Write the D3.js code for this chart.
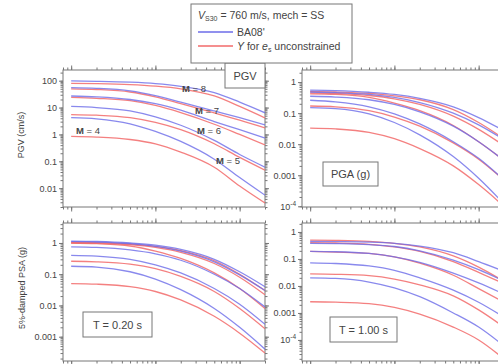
<!DOCTYPE html>
<html>
<head>
<meta charset="utf-8">
<script src="https://cdn.jsdelivr.net/npm/d3@7"></script>
<style>
  body { margin: 0; background: #fff; }
  svg { display: block; font-family: "Liberation Sans", Arial, sans-serif; }
  .frame { fill: none; stroke: #777; stroke-width: 1; }
  .domain { display: none; }
</style>
</head>
<body>
<div id="chart"></div>
<script>
const distances = [1, 2, 5, 10, 20, 50, 100, 200];
const magnitudes = [8, 7, 6, 5, 4];

// PGV (cm/s), one row per magnitude (8..4)
const pgvBA08 = [
  [98, 95, 88, 78, 62, 36, 16, 6.4],
  [55, 52, 42, 28, 16, 7.5, 4.2, 2.26],
  [27, 25, 20, 14, 8, 3, 1.5, 0.74],
  [11, 10, 7.5, 4.5, 2.2, 0.6, 0.18, 0.061],
  [4.2, 3.8, 2.5, 1.3, 0.55, 0.12, 0.025, 0.0055]
];
const pgvY = [
  [80, 78, 72, 63, 50, 27, 11, 4.1],
  [50, 47, 38, 25, 14, 6.3, 3.4, 1.75],
  [24, 22, 18, 12, 6.5, 2.4, 1.0, 0.41],
  [5.5, 5.2, 4.2, 2.8, 1.5, 0.45, 0.14, 0.047],
  [0.85, 0.8, 0.65, 0.45, 0.22, 0.06, 0.012, 0.0028]
];

// PGA (g)
const pgaBA08 = [
  [0.55, 0.53, 0.47, 0.40, 0.30, 0.16, 0.072, 0.027],
  [0.48, 0.46, 0.40, 0.32, 0.22, 0.10, 0.042, 0.014],
  [0.35, 0.33, 0.27, 0.19, 0.11, 0.038, 0.012, 0.003],
  [0.26, 0.23, 0.16, 0.095, 0.045, 0.012, 0.0035, 0.0007],
  [0.15, 0.14, 0.095, 0.05, 0.02, 0.004, 0.0008, 0.00012]
];
const pgaY = [
  [0.50, 0.48, 0.43, 0.36, 0.27, 0.13, 0.05, 0.015],
  [0.45, 0.43, 0.37, 0.29, 0.19, 0.08, 0.03, 0.009],
  [0.42, 0.40, 0.32, 0.21, 0.12, 0.04, 0.012, 0.003],
  [0.17, 0.16, 0.12, 0.075, 0.038, 0.011, 0.0033, 0.0007],
  [0.033, 0.031, 0.024, 0.015, 0.0072, 0.002, 0.0005, 0.0001]
];

// 5%-damped PSA (g), T = 0.20 s
const psa02BA08 = [
  [1.15, 1.12, 1.0, 0.85, 0.62, 0.30, 0.12, 0.04],
  [1.1, 1.07, 0.95, 0.78, 0.55, 0.25, 0.095, 0.03],
  [0.75, 0.72, 0.6, 0.45, 0.28, 0.1, 0.035, 0.009],
  [0.4, 0.38, 0.3, 0.2, 0.11, 0.035, 0.011, 0.0025],
  [0.18, 0.17, 0.12, 0.07, 0.032, 0.008, 0.002, 0.0004]
];
const psa02Y = [
  [1.05, 1.02, 0.92, 0.78, 0.57, 0.27, 0.1, 0.03],
  [1.0, 0.98, 0.88, 0.72, 0.50, 0.22, 0.08, 0.022],
  [1.0, 0.95, 0.8, 0.55, 0.32, 0.11, 0.035, 0.008],
  [0.26, 0.25, 0.21, 0.15, 0.085, 0.028, 0.008, 0.0018],
  [0.05, 0.048, 0.04, 0.028, 0.015, 0.0045, 0.0013, 0.0003]
];

// 5%-damped PSA (g), T = 1.00 s
const psa10BA08 = [
  [0.45, 0.44, 0.42, 0.38, 0.3, 0.17, 0.08, 0.035],
  [0.38, 0.37, 0.34, 0.29, 0.2, 0.09, 0.04, 0.015],
  [0.19, 0.185, 0.16, 0.12, 0.075, 0.03, 0.013, 0.005],
  [0.072, 0.068, 0.055, 0.038, 0.02, 0.007, 0.0025, 0.0007],
  [0.02, 0.019, 0.014, 0.0085, 0.004, 0.001, 0.0003, 0.00006]
];
const psa10Y = [
  [0.5, 0.49, 0.45, 0.38, 0.28, 0.13, 0.05, 0.015],
  [0.4, 0.39, 0.35, 0.28, 0.19, 0.08, 0.032, 0.012],
  [0.19, 0.18, 0.16, 0.12, 0.07, 0.025, 0.008, 0.0025],
  [0.028, 0.027, 0.024, 0.018, 0.011, 0.0043, 0.0013, 0.0003],
  [0.0026, 0.0025, 0.0022, 0.0016, 0.0009, 0.0003, 0.0001, 0.00002]
];

// tick labels
const pgvTicks = [100, 10, 1, 0.1, 0.01];
const pgaTicks = [1, 0.1, 0.01, 0.001, 1e-4];
const psa02Ticks = [1, 0.1, 0.01, 0.001];
const psa10Ticks = [1, 0.1, 0.01, 0.001, 1e-4];
const xMajor = [1, 10, 100];

const width = 498, height = 364;
const blue = "#6c6ce8", red = "#f26a6a";
const ink = "#444", axisGrey = "#777";

const svg = d3.select("#chart").append("svg")
  .attr("width", width).attr("height", height);

// panel layout
const panels = [
  {id: "pgv", x0: 63, x1: 265, y0: 70, y1: 207, yDomain: [0.002, 250],
   ba: pgvBA08, yy: pgvY, ticks: pgvTicks, label: "PGV",
   box: {x: 225, y: 63, w: 40, h: 25}},
  {id: "pga", x0: 302, x1: 504, y0: 70, y1: 207, yDomain: [9.5e-5, 2.45],
   ba: pgaBA08, yy: pgaY, ticks: pgaTicks, label: "PGA (g)",
   box: {x: 323, y: 162, w: 55, h: 24}},
  {id: "psa02", x0: 63, x1: 265, y0: 223, y1: 361, yDomain: [1.67e-4, 4.36],
   ba: psa02BA08, yy: psa02Y, ticks: psa02Ticks, label: "T = 0.20 s",
   box: {x: 83, y: 312, w: 69, h: 25}},
  {id: "psa10", x0: 302, x1: 504, y0: 223, y1: 361, yDomain: [1.66e-5, 2.15],
   ba: psa10BA08, yy: psa10Y, ticks: psa10Ticks, label: "T = 1.00 s",
   box: {x: 330, y: 317, w: 67, h: 25}}
];

function minorTicks(lo, hi) {
  const out = [];
  for (let e = Math.floor(Math.log10(lo)); e <= Math.ceil(Math.log10(hi)); e++) {
    for (let k = 1; k <= 9; k++) {
      const v = k * Math.pow(10, e);
      if (v >= lo * 0.999 && v <= hi * 1.001) out.push(v);
    }
  }
  return out;
}

function fmt(d) {
  if (d >= 1) return String(d);
  return d3.format("~g")(d);
}

panels.forEach(p => {
  const x = d3.scaleLog().domain([0.8, 200]).range([p.x0, p.x1]);
  const y = d3.scaleLog().domain(p.yDomain).range([p.y1, p.y0]);
  const g = svg.append("g");

  g.append("clipPath").attr("id", "clip-" + p.id)
    .append("rect").attr("x", p.x0).attr("y", p.y0)
    .attr("width", p.x1 - p.x0).attr("height", p.y1 - p.y0);

  // minor + major ticks on all four sides, pointing outwards
  const yMinor = minorTicks(p.yDomain[0], p.yDomain[1]);
  const xMinor = minorTicks(0.8, 200);
  const axes = [
    [d3.axisLeft(y).tickValues(yMinor).tickSize(2.5).tickFormat(""), `translate(${p.x0},0)`],
    [d3.axisRight(y).tickValues(yMinor).tickSize(2.5).tickFormat(""), `translate(${p.x1},0)`],
    [d3.axisTop(x).tickValues(xMinor).tickSize(2.5).tickFormat(""), `translate(0,${p.y0})`],
    [d3.axisBottom(x).tickValues(xMinor).tickSize(2.5).tickFormat(""), `translate(0,${p.y1})`],
    [d3.axisRight(y).tickValues(p.ticks).tickSize(4).tickFormat(""), `translate(${p.x1},0)`],
    [d3.axisTop(x).tickValues(xMajor).tickSize(4.5).tickFormat(""), `translate(0,${p.y0})`],
    [d3.axisBottom(x).tickValues(xMajor).tickSize(4.5).tickFormat(""), `translate(0,${p.y1})`]
  ];
  axes.forEach(([ax, tr]) => g.append("g").attr("transform", tr).call(ax.tickSizeOuter(0)));

  const yAxis = g.append("g").attr("transform", `translate(${p.x0},0)`)
    .call(d3.axisLeft(y).tickValues(p.ticks).tickSize(4).tickSizeOuter(0).tickPadding(2).tickFormat(fmt));
  yAxis.selectAll("text").attr("font-size", 9).attr("fill", ink)
    .each(function(d) {
      if (d === 1e-4) {
        const t = d3.select(this).text("10");
        t.append("tspan").attr("dy", -4).attr("font-size", 6.5).text("-4");
      }
    });

  g.selectAll(".tick line").attr("stroke", axisGrey);

  g.append("rect").attr("class", "frame")
    .attr("x", p.x0).attr("y", p.y0)
    .attr("width", p.x1 - p.x0).attr("height", p.y1 - p.y0);

  const line = d3.line()
    .x((d, i) => x(distances[i]))
    .y(d => y(d))
    .curve(d3.curveMonotoneX);

  const curves = g.append("g").attr("clip-path", `url(#clip-${p.id})`);
  magnitudes.forEach((m, i) => {
    curves.append("path").attr("d", line(p.yy[i]))
      .attr("fill", "none").attr("stroke", red).attr("stroke-width", 1.3).attr("stroke-opacity", 0.85);
    curves.append("path").attr("d", line(p.ba[i]))
      .attr("fill", "none").attr("stroke", blue).attr("stroke-width", 1.3).attr("stroke-opacity", 0.8);
  });

  // panel label box
  g.append("rect").attr("x", p.box.x).attr("y", p.box.y)
    .attr("width", p.box.w).attr("height", p.box.h)
    .attr("fill", "#fff").attr("stroke", axisGrey);
  g.append("text").attr("x", p.box.x + p.box.w / 2).attr("y", p.box.y + p.box.h / 2 + 4)
    .attr("text-anchor", "middle").attr("font-size", 11).attr("fill", ink)
    .text(p.label);
});

// magnitude labels on the PGV panel
const mLabels = [
  {m: 8, x: 182, y: 92}, {m: 7, x: 195, y: 114}, {m: 6, x: 197, y: 134},
  {m: 5, x: 216, y: 164}, {m: 4, x: 76, y: 134}
];
mLabels.forEach(l => {
  const t = svg.append("text").attr("x", l.x).attr("y", l.y)
    .attr("font-size", 9.5).attr("fill", ink);
  t.append("tspan").attr("font-weight", "bold").text("M");
  t.append("tspan").text(" = " + l.m);
});

// y axis titles
svg.append("text").attr("transform", "translate(24,135) rotate(-90)")
  .attr("text-anchor", "middle").attr("font-size", 9).attr("fill", ink)
  .text("PGV (cm/s)");
svg.append("text").attr("transform", "translate(25,288) rotate(-90)")
  .attr("text-anchor", "middle").attr("font-size", 9).attr("fill", ink)
  .text("5%-damped PSA (g)");

// legend
const leg = svg.append("g");
const legFont = 10.5;
leg.append("rect").attr("x", 191).attr("y", 4).attr("width", 161).attr("height", 59)
  .attr("fill", "#fff").attr("stroke", axisGrey);
const t1 = leg.append("text").attr("x", 198).attr("y", 19).attr("font-size", legFont).attr("fill", ink);
t1.append("tspan").attr("font-style", "italic").text("V");
t1.append("tspan").attr("font-size", 7).attr("dy", 2).text("S30");
t1.append("tspan").attr("dy", -2).text(" = 760 m/s, mech = SS");
leg.append("line").attr("x1", 198).attr("x2", 233).attr("y1", 32).attr("y2", 32)
  .attr("stroke", blue).attr("stroke-width", 1.3);
leg.append("text").attr("x", 237).attr("y", 36).attr("font-size", legFont).attr("fill", ink).text("BA08'");
leg.append("line").attr("x1", 198).attr("x2", 233).attr("y1", 46).attr("y2", 46)
  .attr("stroke", red).attr("stroke-width", 1.3);
const t3 = leg.append("text").attr("x", 237).attr("y", 50).attr("font-size", legFont).attr("fill", ink);
t3.append("tspan").attr("font-style", "italic").text("Y");
t3.append("tspan").text(" for ");
t3.append("tspan").attr("font-style", "italic").text("e");
t3.append("tspan").attr("font-size", 7).attr("dy", 2).text("s");
t3.append("tspan").attr("dy", -2).text(" unconstrained");
</script>
</body>
</html>
